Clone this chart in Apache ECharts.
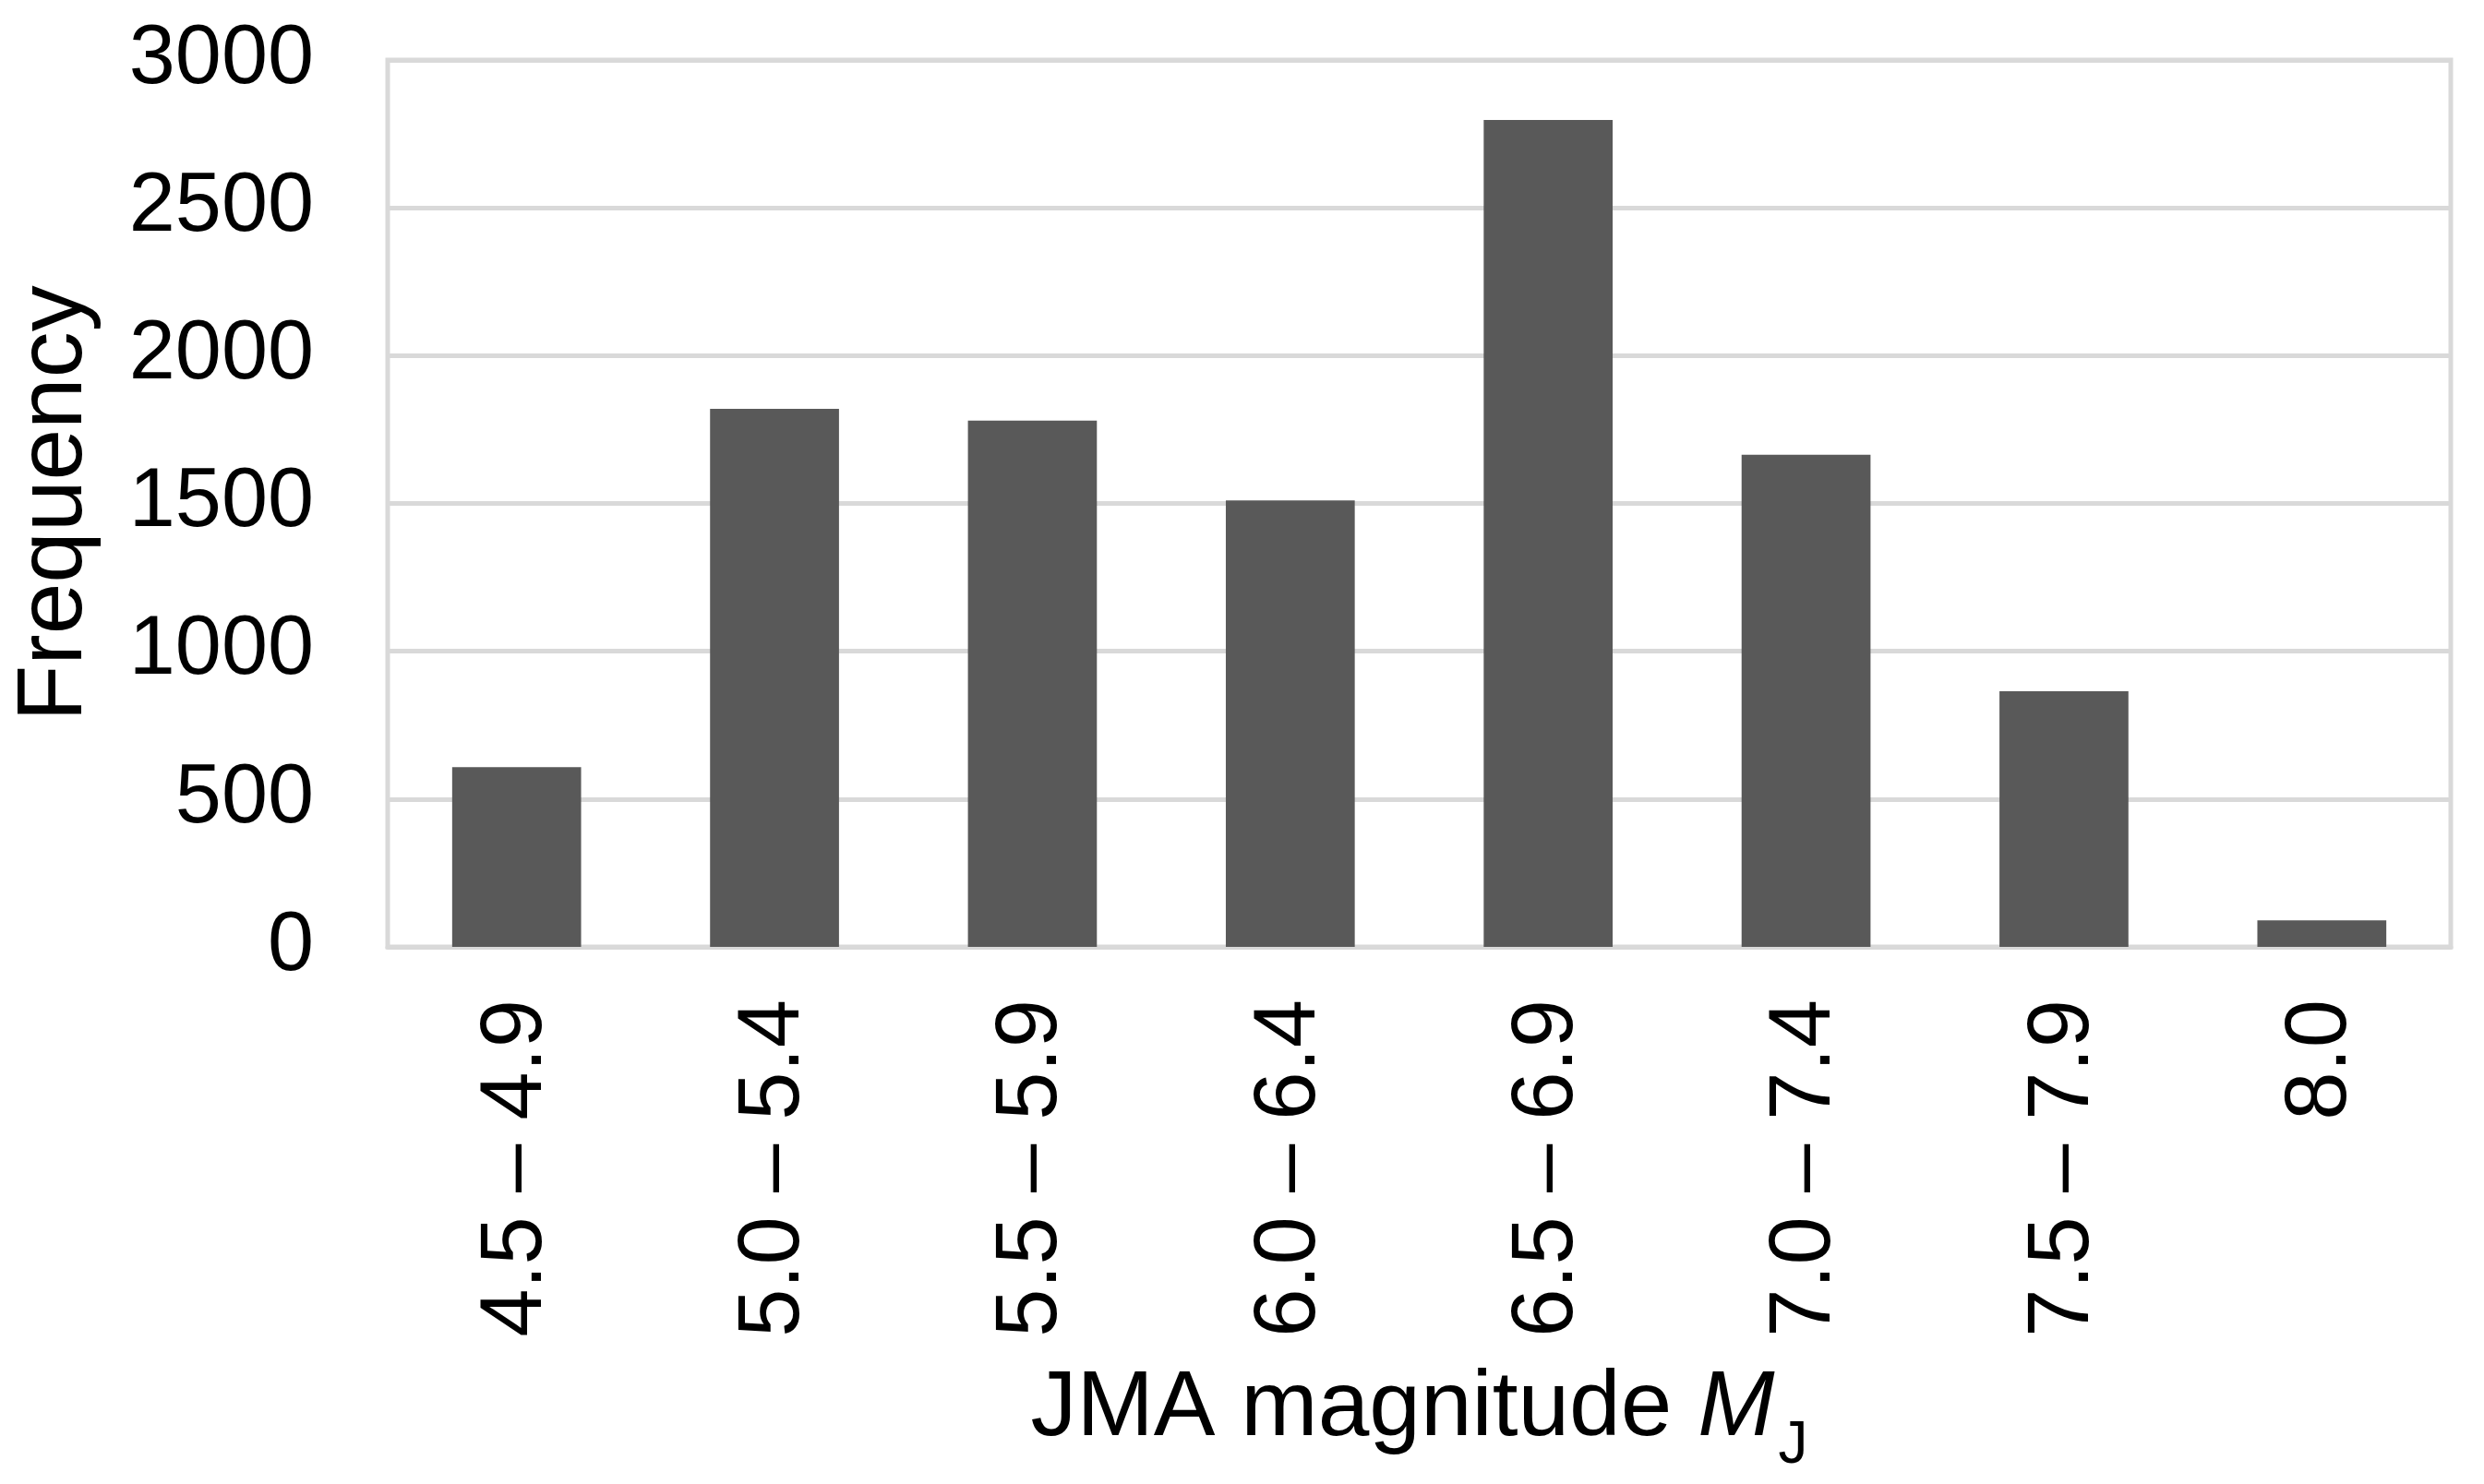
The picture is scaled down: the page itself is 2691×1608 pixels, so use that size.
<!DOCTYPE html>
<html>
<head>
<meta charset="utf-8">
<script src="https://cdn.jsdelivr.net/npm/echarts@6/dist/echarts.min.js"></script>
<style>
html,body{margin:0;padding:0;background:#fff;}
#chart{width:2691px;height:1608px;}
</style>
</head>
<body>
<div id="chart"></div>
<script>
const categories = ['4.5 – 4.9', '5.0 – 5.4', '5.5 – 5.9', '6.0 – 6.4', '6.5 – 6.9', '7.0 – 7.4', '7.5 – 7.9', '8.0'];
const frequency = [608, 1820, 1780, 1510, 2797, 1665, 865, 90];
const yTicks = { min: 0, max: 3000, interval: 500 };

const FONT = '"Liberation Sans", Arial, sans-serif';
const chart = echarts.init(document.getElementById('chart'), null, { renderer: 'canvas' });
chart.setOption({
  backgroundColor: '#ffffff',
  animation: false,
  grid: {
    left: 420, right: 36, top: 65, bottom: 582,
    containLabel: false,
    outerBoundsMode: 'none',
    show: true, borderColor: '#d9d9d9', borderWidth: 5, backgroundColor: 'transparent'
  },
  xAxis: {
    type: 'category',
    data: categories,
    axisLine: { show: true, lineStyle: { color: '#d9d9d9', width: 5 } },
    axisTick: { show: false },
    axisLabel: { rotate: 90, margin: 57, fontSize: 94, color: '#000', fontFamily: FONT, interval: 0 },
    name: '{n|JMA magnitude }{m|M}{s|J}',
    nameLocation: 'middle',
    nameGap: 451,
    nameMoveOverlap: false,
    nameTextStyle: {
      color: '#000', fontFamily: FONT, fontSize: 100,
      rich: {
        n: { fontSize: 100, fontFamily: FONT, color: '#000', lineHeight: 110, verticalAlign: 'top' },
        m: { fontSize: 100, fontFamily: FONT, color: '#000', fontStyle: 'italic', lineHeight: 110, verticalAlign: 'top' },
        s: { fontSize: 64, fontFamily: FONT, color: '#000', lineHeight: 64, verticalAlign: 'top', padding: [58, 0, 0, 4] }
      }
    }
  },
  yAxis: {
    type: 'value',
    min: yTicks.min, max: yTicks.max, interval: yTicks.interval,
    axisLine: { show: false },
    axisTick: { show: false },
    splitLine: { show: true, lineStyle: { color: '#d9d9d9', width: 5 } },
    axisLabel: { fontSize: 90, color: '#000', fontFamily: FONT, margin: 80, formatter: v => String(v) },
    name: 'Frequency',
    nameLocation: 'middle',
    nameGap: 310,
    nameRotate: 90,
    nameMoveOverlap: false,
    nameTextStyle: { color: '#000', fontFamily: FONT, fontSize: 100 }
  },
  series: [{
    type: 'bar',
    data: frequency,
    barWidth: '50%',
    itemStyle: { color: '#595959' }
  }]
});
</script>
</body>
</html>
